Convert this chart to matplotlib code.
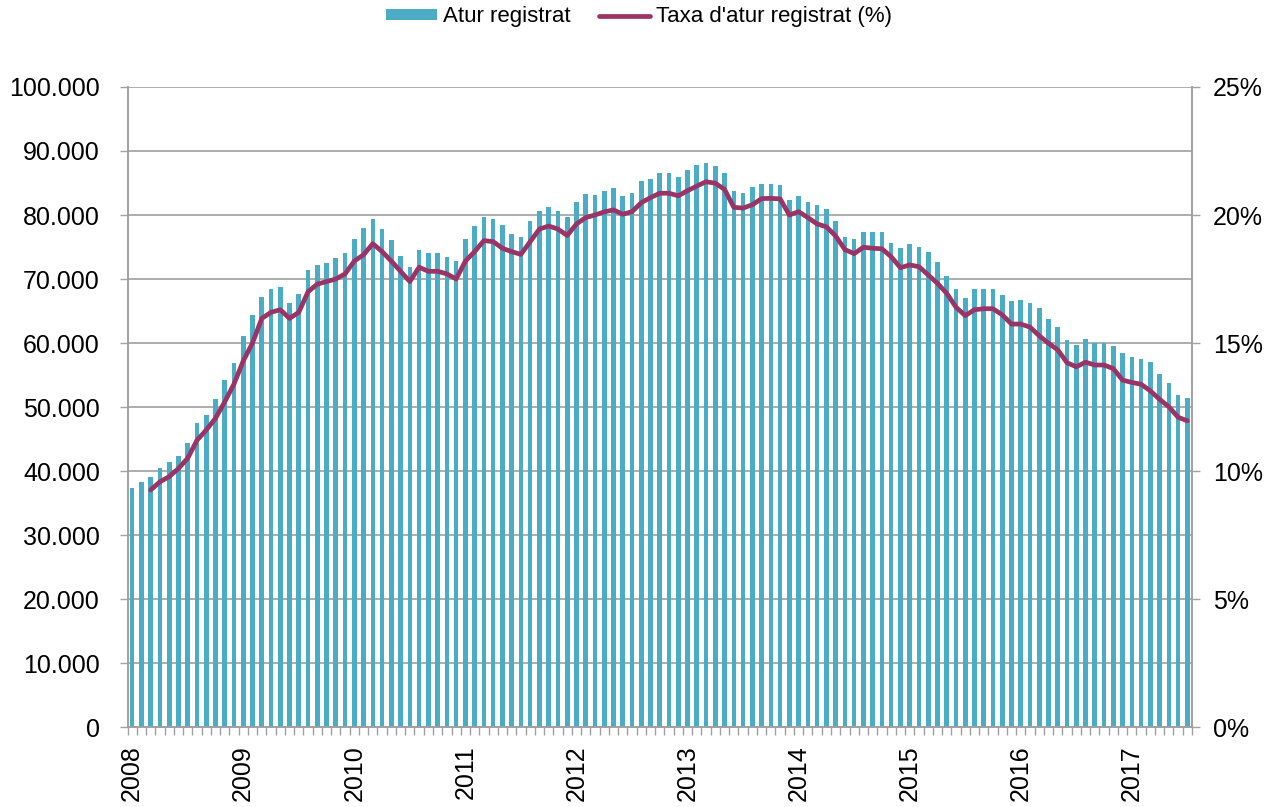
import numpy as np
import matplotlib
matplotlib.use("Agg")
import matplotlib.pyplot as plt
from matplotlib.ticker import FuncFormatter, FixedLocator

plt.rcParams['font.family'] = ['Liberation Sans', 'DejaVu Sans']

years = ["2008", "2009", "2010", "2011", "2012", "2013", "2014", "2015", "2016", "2017"]

# registered unemployment, one value per month (Jan 2008 - Jul 2017)
atur = [
    37400, 38300, 39000, 40400, 41400, 42400, 44400, 47500, 48750, 51250, 54200, 56800,
    61100, 64300, 67200, 68400, 68700, 66300, 67700, 71400, 72200, 72500, 73300, 74100,
    76300, 77900, 79400, 77800, 76100, 73600, 71800, 74500, 74000, 74000, 73400, 72800,
    76300, 78300, 79700, 79400, 78500, 77000, 76500, 79100, 80600, 81200, 80600, 79700,
    82000, 83300, 83100, 83700, 84200, 83000, 83400, 85300, 85700, 86600, 86600, 85900,
    87000, 87800, 88200, 87700, 86500, 83750, 83400, 84300, 84800, 84800, 84700, 82400,
    83000, 82000, 81500, 80900, 79000, 76600, 76300, 77400, 77400, 77300, 75700, 74800,
    75400, 75000, 74200, 72600, 70500, 68400, 67100, 68500, 68500, 68500, 67450, 66600,
    66700, 66200, 65500, 63750, 62450, 60400, 59700, 60600, 59950, 60050, 59600, 58400,
    57800, 57500, 57000, 55200, 53800, 51900, 51400,
]

# registered unemployment rate (%)
taxa = [
    np.nan, np.nan, 9.26, 9.58, 9.78, 10.1, 10.5, 11.2, 11.6, 12.06, 12.7, 13.4,
    14.3, 15.0, 15.96, 16.2, 16.3, 15.96, 16.2, 17.0, 17.3, 17.4, 17.5, 17.7,
    18.2, 18.45, 18.88, 18.57, 18.2, 17.8, 17.4, 17.96, 17.8, 17.8, 17.7, 17.5,
    18.2, 18.57, 19.0, 18.96, 18.7, 18.57, 18.46, 18.96, 19.45, 19.57, 19.45, 19.2,
    19.65, 19.9, 20.0, 20.12, 20.2, 20.03, 20.13, 20.48, 20.68, 20.85, 20.85, 20.75,
    20.95, 21.13, 21.3, 21.24, 21.0, 20.3, 20.27, 20.4, 20.64, 20.65, 20.63, 20.0,
    20.13, 19.9, 19.65, 19.54, 19.18, 18.65, 18.49, 18.74, 18.7, 18.68, 18.37, 17.94,
    18.05, 17.98, 17.66, 17.33, 16.94, 16.4, 16.07, 16.3, 16.34, 16.34, 16.1, 15.74,
    15.74, 15.62, 15.28, 14.99, 14.73, 14.23, 14.07, 14.25, 14.14, 14.14, 14.0, 13.55,
    13.46, 13.39, 13.13, 12.8, 12.51, 12.1, 11.96,
]

bar_col = "#4BACC6"
line_col = "#9A3366"
grey = "#A0A0A0"

x = np.arange(len(atur))

fig = plt.figure(figsize=(12.78, 8.07), dpi=100)
ax = fig.add_axes([0.0998, 0.0991, 0.8329, 0.7931])
ax2 = ax.twinx()

ax.set_axisbelow(True)
ax.bar(x, atur, width=0.5, color=bar_col, label="Atur registrat")
ax2.plot(x, taxa, color=line_col, lw=3.4, solid_capstyle="round",
         label="Taxa d'atur registrat (%)")

ax.set_xlim(-0.5, len(atur) - 0.5)
ax.set_ylim(0, 100000)
ax.set_yticks(np.arange(0, 100001, 10000))
ax.yaxis.set_major_formatter(FuncFormatter(lambda v, p: f"{int(v):,}".replace(",", ".")))
ax2.set_ylim(0, 25)
ax2.set_yticks(np.arange(0, 26, 5))
ax2.yaxis.set_major_formatter(FuncFormatter(lambda v, p: f"{int(v)}%"))

ax.grid(axis="y", color=grey, lw=1.2)

# year labels on january, small ticks between months
ax.xaxis.set_major_locator(FixedLocator(np.arange(0, len(atur), 12)))
ax.set_xticklabels(years, rotation=90)
ax.xaxis.set_minor_locator(FixedLocator(np.arange(-0.5, len(atur) + 0.5, 1)))
ax.tick_params(axis="x", which="major", length=0, pad=13, labelsize=18)
ax.tick_params(axis="x", which="minor", length=6, width=1, color=grey)
ax.tick_params(axis="y", length=6, width=1, color=grey, pad=14, labelsize=18)
ax2.tick_params(axis="y", length=6, width=1, color=grey, pad=9, labelsize=18)

for a in (ax, ax2):
    a.spines["top"].set_visible(False)
    for s in ("left", "right", "bottom"):
        a.spines[s].set_color(grey)
        a.spines[s].set_linewidth(1.2)

h1, l1 = ax.get_legend_handles_labels()
h2, l2 = ax2.get_legend_handles_labels()
fig.legend(h1 + h2, l1 + l2, loc="upper center", bbox_to_anchor=(0.5, 1.017),
           ncol=2, frameon=False, fontsize=16, handlelength=2.3,
           handleheight=0.4, handletextpad=0.25, columnspacing=1.3)

fig.savefig("out.png", dpi=100)
